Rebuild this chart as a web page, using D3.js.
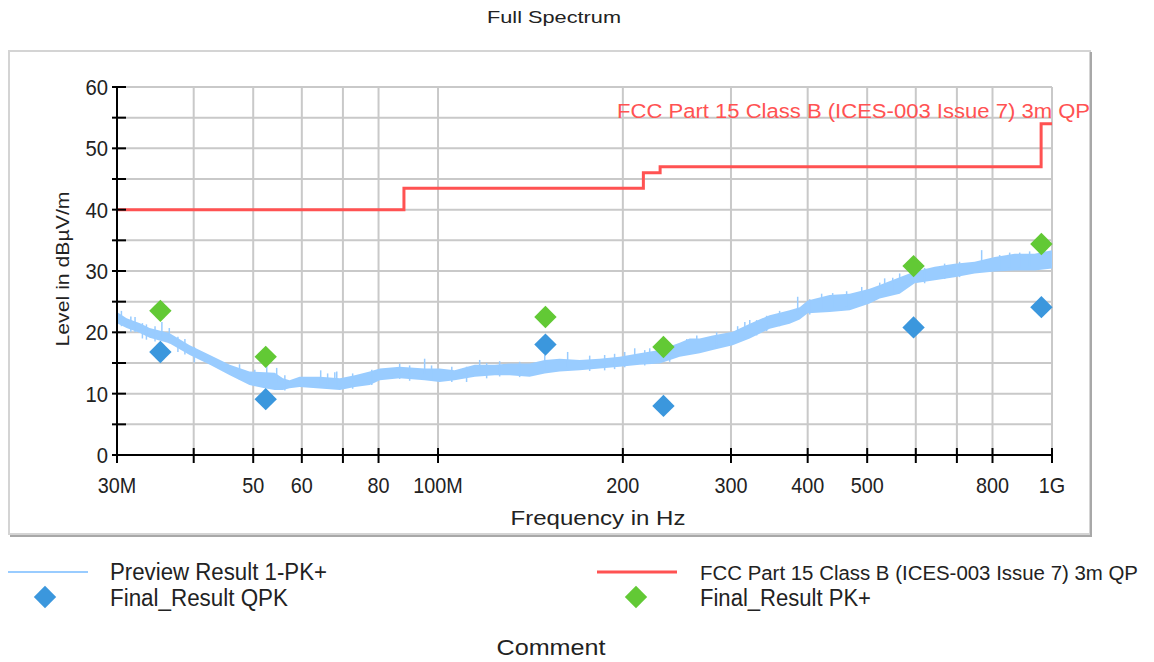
<!DOCTYPE html>
<html>
<head>
<meta charset="utf-8">
<script src="https://cdn.jsdelivr.net/npm/d3@7"></script>
<style>
  body { margin: 0; background: #fff; }
  text { font-family: "Liberation Sans", Arial, sans-serif; fill: #222; }
</style>
</head>
<body>
<div id="chart"></div>
<script>
// ---- data (frequencies in MHz, levels in dBµV/m) ----
const xTickValues = [30, 40, 50, 60, 70, 80, 100, 200, 300, 400, 500, 600, 700, 800, 1000];
const xTickNames = { 30: "30M", 50: "50", 60: "60", 80: "80", 100: "100M", 200: "200", 300: "300", 400: "400", 500: "500", 800: "800", 1000: "1G" };
const yTickValues = [0, 5, 10, 15, 20, 25, 30, 35, 40, 45, 50, 55, 60];
const yLabelValues = [0, 10, 20, 30, 40, 50, 60];

// preview trace, read as a band (lower / upper edge) plus single spikes
const traceFreq = [30, 31.1, 32.7, 33.9, 36.5, 39.4, 42.5, 45.8, 49.3, 52.2, 54.2, 55.9, 57.3, 59.5, 64.2, 69.2, 73.2, 77.4, 80.4, 86.6, 95.1, 100.6, 106.4, 114.8, 123.7, 130.8, 141, 149.2, 157.8, 170.1, 183.3, 197.6, 213, 229.6, 247.5, 257, 266.8, 280.1, 301.9, 321.9, 346.8, 373.8, 388.2, 400.1, 434.4, 468.3, 504.6, 524.1, 564.8, 597.5, 644.2, 694, 748.1, 806.8, 869.2, 936.8, 1000];
const traceLow = [21.5, 20.7, 19.9, 19.1, 18.2, 16.3, 14.7, 13.0, 11.4, 10.9, 10.6, 10.6, 10.9, 11.1, 10.85, 10.6, 11.1, 11.4, 12.2, 12.5, 12.2, 11.9, 12.2, 12.75, 13.0, 13.0, 12.75, 13.3, 13.6, 13.8, 14.1, 14.4, 14.7, 14.9, 16.0, 16.3, 16.6, 17.1, 17.9, 19.0, 20.6, 21.4, 22.1, 23.1, 23.3, 23.6, 24.7, 25.5, 26.3, 28.0, 28.5, 29.0, 29.6, 29.9, 30.1, 30.1, 30.4];
const traceHigh = [23.3, 22.3, 21.5, 20.7, 19.9, 17.9, 16.3, 14.7, 13.6, 13.5, 13.4, 12.5, 12.2, 12.75, 12.75, 12.5, 13.0, 13.6, 14.1, 14.4, 14.1, 14.1, 13.8, 14.7, 14.7, 14.9, 14.9, 15.5, 15.7, 15.5, 15.7, 16.0, 16.6, 17.1, 18.3, 19.0, 19.0, 19.5, 20.1, 21.4, 22.8, 23.6, 24.1, 25.2, 26.1, 26.3, 27.1, 27.7, 29.0, 29.9, 30.7, 31.2, 31.5, 32.3, 32.8, 32.8, 33.4];
const spikeFreq = [30.5, 31.6, 32.1, 33.0, 33.5, 34.6, 35.5, 36.5, 37.7, 38.7, 40.1, 47.5, 50.3, 52.6, 54.6, 56.3, 64.4, 66.1, 67.9, 68.4, 72.6, 78.0, 86.6, 89.9, 95.1, 97.6, 105.3, 111.3, 116.9, 120.0, 126.0, 135.8, 149.2, 162.6, 176.6, 186.8, 193.9, 201.4, 209.1, 217.1, 221.2, 238.4, 254.2, 263.9, 284.3, 307.6, 316, 321.9, 330.3, 342.9, 360.0, 385.3, 403.1, 421.5, 439.3, 462.9, 489.9, 524.1, 533.9, 550.3, 564.8, 620.2, 668.5, 707.0, 768.1, 821.8, 853.2, 885.9, 919.5, 972.6];
const spikeLevel = [23.5, 22.6, 22.5, 21.5, 21.3, 21.0, 21.7, 20.7, 19.3, 18.9, 17.6, 14.8, 13.9, 15.2, 14.2, 13.0, 13.8, 13.3, 13.5, 13.6, 13.3, 13.9, 14.9, 14.6, 15.7, 14.6, 14.4, 14.4, 15.5, 15.0, 15.3, 15.2, 16.3, 16.8, 16.2, 16.3, 16.5, 16.8, 17.4, 17.1, 17.4, 17.7, 18.9, 19.5, 20.0, 21.0, 21.7, 22.0, 22.0, 22.7, 23.5, 25.8, 25.4, 26.3, 26.4, 26.7, 27.4, 28.1, 28.8, 28.9, 29.6, 30.5, 31.2, 31.5, 33.4, 32.6, 33.0, 33.0, 33.2, 33.9];

// limit line (step after each point)
const limitFreq = [30, 88, 216, 230, 960, 1000];
const limitLevel = [40, 43.5, 46, 47, 54, 54];
const limitName = "FCC Part 15 Class B (ICES-003 Issue 7) 3m QP";

// final results
const finalFreq = [35.3, 52.4, 149.6, 232.9, 595, 961];
const qpkLevel = [16.8, 9.1, 18.0, 8.0, 20.8, 24.1];
const pkLevel = [23.5, 16.0, 22.5, 17.6, 30.8, 34.4];

// ---- layout ----
const outerWidth = 1154, outerHeight = 662;
const margin = { top: 87, left: 117 };
const width = 935, height = 368;

const traceColor = "#99ccff";
const limitColor = "#ff5252";
const qpkColor = "#3b97dd";
const pkColor = "#62c935";
const gridColor = "#c9c9c9";

const svg = d3.select("#chart").append("svg")
    .attr("width", outerWidth)
    .attr("height", outerHeight);

// force a text to a given width
function fit(sel, w) {
    return sel.attr("textLength", w).attr("lengthAdjust", "spacingAndGlyphs");
}
// narrow texts to a share of their natural width
function squeeze(sel, k) {
    sel.each(function() {
        const w = this.getComputedTextLength();
        d3.select(this).attr("textLength", w * k).attr("lengthAdjust", "spacingAndGlyphs");
    });
}

// title
fit(svg.append("text")
    .attr("x", 554).attr("y", 23)
    .attr("text-anchor", "middle")
    .style("font-size", "17px")
    .text("Full Spectrum"), 134);

// frame with shadow
svg.append("rect")
    .attr("x", 9).attr("y", 51)
    .attr("width", 1081).attr("height", 483)
    .attr("fill", "#fff")
    .attr("stroke", "#d4d4d4")
    .attr("stroke-width", 2);
svg.append("path")
    .attr("d", "M1091,52 V536 H10")
    .attr("fill", "none")
    .attr("stroke", "#a8a8a8")
    .attr("stroke-width", 2);

const g = svg.append("g")
    .attr("transform", `translate(${margin.left}, ${margin.top})`);

// scales
const x = d3.scaleLog().domain([30, 1000]).range([0, width]);
const y = d3.scaleLinear().domain([0, 60]).range([height, 0]);

// grid
g.append("g").selectAll("line")
    .data(xTickValues.slice(1))
    .join("line")
    .attr("x1", d => x(d)).attr("x2", d => x(d))
    .attr("y1", 0).attr("y2", height)
    .attr("stroke", gridColor).attr("stroke-width", 2);
g.append("g").selectAll("line")
    .data(yTickValues.slice(1))
    .join("line")
    .attr("x1", 0).attr("x2", width)
    .attr("y1", d => y(d)).attr("y2", d => y(d))
    .attr("stroke", gridColor).attr("stroke-width", 2);

// preview trace
const band = d3.area()
    .x(d => x(d.f))
    .y0(d => y(d.lo))
    .y1(d => y(d.hi));
const traceData = traceFreq.map((f, i) => ({ f, lo: traceLow[i], hi: traceHigh[i] }));
g.append("path")
    .datum(traceData)
    .attr("d", band)
    .attr("fill", traceColor);
g.append("g").selectAll("line")
    .data(spikeFreq.map((f, i) => ({ f, v: spikeLevel[i] })))
    .join("line")
    .attr("x1", d => x(d.f)).attr("x2", d => x(d.f))
    .attr("y1", d => y(d.v)).attr("y2", d => y(d.v - 2.5))
    .attr("stroke", traceColor).attr("stroke-width", 1.5);

// limit line
const limitLine = d3.line()
    .x((d, i) => x(limitFreq[i]))
    .y(d => y(d))
    .curve(d3.curveStepAfter);
g.append("path")
    .datum(limitLevel)
    .attr("d", limitLine)
    .attr("fill", "none")
    .attr("stroke", limitColor)
    .attr("stroke-width", 3);
fit(g.append("text")
    .attr("x", 500).attr("y", 31)
    .style("font-size", "20px")
    .style("fill", limitColor)
    .text(limitName), 473);

// final result markers
const diamond = d3.symbol(d3.symbolSquare, 250);
function markers(levels, color) {
    g.append("g").selectAll("path")
        .data(finalFreq.map((f, i) => ({ f, v: levels[i] })))
        .join("path")
        .attr("d", diamond)
        .attr("transform", d => `translate(${x(d.f)}, ${y(d.v)}) rotate(45)`)
        .attr("fill", color);
}
markers(qpkLevel, qpkColor);
markers(pkLevel, pkColor);

// axes
const xAxis = g.append("g").attr("transform", `translate(0, ${height})`);
xAxis.append("line")
    .attr("x1", 0).attr("x2", width)
    .attr("stroke", "#000").attr("stroke-width", 2);
xAxis.selectAll(".tick")
    .data(xTickValues)
    .join("line")
    .attr("x1", d => x(d)).attr("x2", d => x(d))
    .attr("y1", d => d === 30 ? -2 : -7).attr("y2", 8)
    .attr("stroke", "#000").attr("stroke-width", 2);
xAxis.selectAll("text")
    .data(xTickValues.filter(d => xTickNames[d]))
    .join("text")
    .attr("x", d => x(d))
    .attr("y", 38)
    .attr("text-anchor", "middle")
    .style("font-size", "22px")
    .text(d => xTickNames[d])
    .call(squeeze, 0.9);

const yAxis = g.append("g");
yAxis.append("line")
    .attr("y1", 0).attr("y2", height)
    .attr("stroke", "#000").attr("stroke-width", 2);
yAxis.selectAll(".tick")
    .data(yTickValues)
    .join("line")
    .attr("x1", -5).attr("x2", 9)
    .attr("y1", d => y(d)).attr("y2", d => y(d))
    .attr("stroke", "#000").attr("stroke-width", 2);
yAxis.selectAll("text")
    .data(yLabelValues)
    .join("text")
    .attr("x", -9)
    .attr("y", d => y(d))
    .attr("dy", "0.36em")
    .attr("text-anchor", "end")
    .style("font-size", "22px")
    .text(d => d)
    .call(squeeze, 0.92);

// axis titles
fit(g.append("text")
    .attr("x", 481).attr("y", 70 + height)
    .attr("text-anchor", "middle")
    .style("font-size", "21px")
    .text("Frequency in Hz"), 175);
fit(g.append("text")
    .attr("transform", `translate(-48, 182) rotate(-90)`)
    .attr("text-anchor", "middle")
    .style("font-size", "19px")
    .text("Level in dBµV/m"), 155);

// legend
const legend = svg.append("g");
legend.append("line")
    .attr("x1", 8).attr("x2", 88).attr("y1", 572).attr("y2", 572)
    .attr("stroke", traceColor).attr("stroke-width", 2);
legend.append("line")
    .attr("x1", 597).attr("x2", 677).attr("y1", 572).attr("y2", 572)
    .attr("stroke", limitColor).attr("stroke-width", 3);
legend.append("path")
    .attr("d", diamond)
    .attr("transform", "translate(45, 597) rotate(45)")
    .attr("fill", qpkColor);
legend.append("path")
    .attr("d", diamond)
    .attr("transform", "translate(636, 597) rotate(45)")
    .attr("fill", pkColor);

const legendItems = [
    { x: 110, y: 580, text: "Preview Result 1-PK+", w: 217, size: 23 },
    { x: 110, y: 606, text: "Final_Result QPK", w: 178, size: 23 },
    { x: 700, y: 580, text: limitName, w: 438, size: 20 },
    { x: 700, y: 606, text: "Final_Result PK+", w: 171, size: 23 }
];
legendItems.forEach(d => {
    fit(legend.append("text")
        .attr("x", d.x).attr("y", d.y)
        .style("font-size", d.size + "px")
        .text(d.text), d.w);
});

fit(svg.append("text")
    .attr("x", 551).attr("y", 655)
    .attr("text-anchor", "middle")
    .style("font-size", "22px")
    .text("Comment"), 109);
</script>
</body>
</html>
